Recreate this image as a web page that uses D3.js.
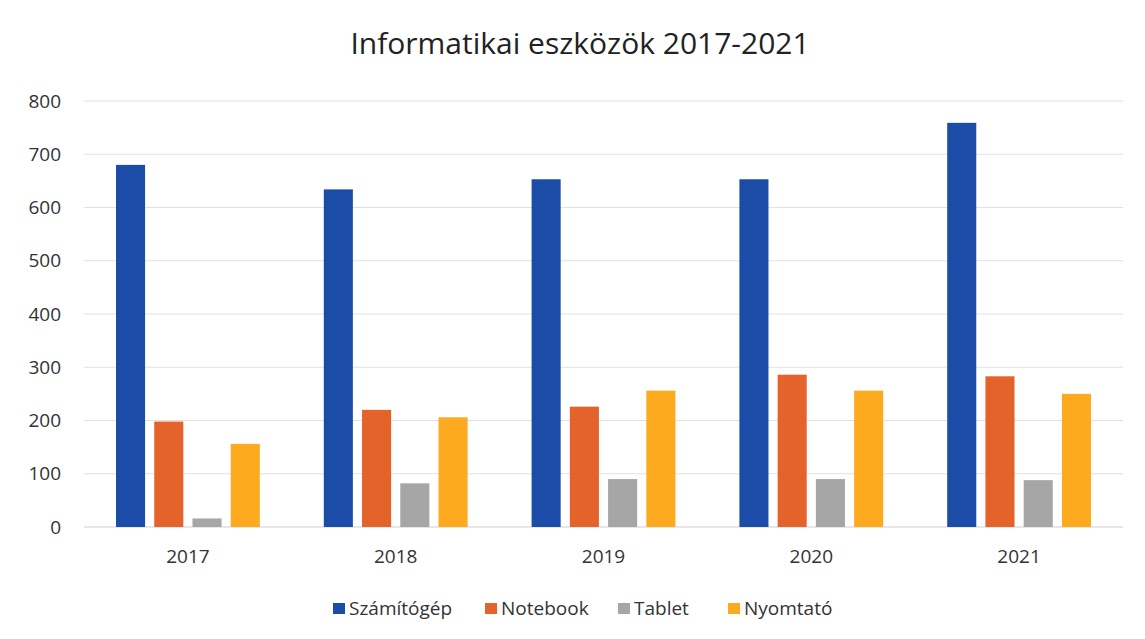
<!DOCTYPE html>
<html>
<head>
<meta charset="utf-8">
<script src="https://cdn.jsdelivr.net/npm/d3@7"></script>
<style>
  body { margin: 0; background: #fff; }
  svg { display: block; font-family: "Open Sans", sans-serif; }
</style>
</head>
<body>
<div id="chart"></div>
<script>
const years = ["2017", "2018", "2019", "2020", "2021"]
const series = ["Számítógép", "Notebook", "Tablet", "Nyomtató"]
const szamitogep = [680, 634, 653, 653, 759]
const notebook = [198, 220, 226, 286, 283]
const tablet = [16, 82, 90, 90, 88]
const nyomtato = [156, 206, 256, 256, 250]
const yTicks = [0, 100, 200, 300, 400, 500, 600, 700, 800]
const colors = ["#1b4ca8", "#e3632b", "#a6a6a6", "#fdaa1f"]

const values = [szamitogep, notebook, tablet, nyomtato]
const rows = years.map((y, i) => ({
  year: y,
  vals: series.map((s, j) => ({ key: s, value: values[j][i], idx: j }))
}))

const width = 1145, height = 639
const margin = { top: 101, right: 22, bottom: 113, left: 84 }

const svg = d3.select("#chart").append("svg")
  .attr("width", width)
  .attr("height", height)

svg.append("rect").attr("width", width).attr("height", height).attr("fill", "#fff")

const x0 = d3.scaleBand()
  .domain(years)
  .range([margin.left, width - margin.right])
  .padding(0)

const groupPad = 32
const x1 = d3.scaleBand()
  .domain(series)
  .range([groupPad, x0.bandwidth() - groupPad])
  .paddingInner(0.24)
  .paddingOuter(0)

const y = d3.scaleLinear()
  .domain([0, 800])
  .range([height - margin.bottom + 1, margin.top])

// gridlines
svg.append("g")
  .selectAll("line")
  .data(yTicks)
  .join("line")
    .attr("x1", margin.left)
    .attr("x2", width - margin.right)
    .attr("y1", d => y(d))
    .attr("y2", d => y(d))
    .attr("stroke", d => d === 0 ? "#cfcfcf" : "#e1e1e1")
    .attr("stroke-width", 1.2)

// y labels
const yAxis = d3.axisLeft(y).tickValues(yTicks).tickSize(0).tickPadding(0)
svg.append("g")
  .attr("transform", `translate(61,0)`)
  .call(yAxis)
  .call(g => g.select(".domain").remove())
  .call(g => g.selectAll("text")
    .attr("font-size", 19)
    .attr("fill", "#333")
    .attr("font-family", "Open Sans, sans-serif"))

// x labels
const xAxis = d3.axisBottom(x0).tickSize(0).tickPadding(0)
svg.append("g")
  .attr("transform", `translate(0,${y(0) + 22})`)
  .call(xAxis)
  .call(g => g.select(".domain").remove())
  .call(g => g.selectAll("text")
    .attr("font-size", 19)
    .attr("fill", "#333")
    .attr("font-family", "Open Sans, sans-serif"))

// bars
svg.append("g")
  .selectAll("g")
  .data(rows)
  .join("g")
    .attr("transform", d => `translate(${x0(d.year)},0)`)
  .selectAll("rect")
  .data(d => d.vals)
  .join("rect")
    .attr("x", d => x1(d.key))
    .attr("width", x1.bandwidth())
    .attr("y", d => y(d.value))
    .attr("height", d => y(0) - y(d.value))
    .attr("fill", d => colors[d.idx])

// title
svg.append("text")
  .attr("x", 580)
  .attr("y", 54)
  .attr("text-anchor", "middle")
  .attr("font-size", 30)
  .attr("fill", "#222")
  .text("Informatikai eszközök 2017-2021")

// legend
const legendX = [333, 485, 618, 728]
const legend = svg.append("g")
  .selectAll("g")
  .data(series)
  .join("g")
    .attr("transform", (d, i) => `translate(${legendX[i]},603)`)
legend.append("rect")
  .attr("width", 12).attr("height", 11)
  .attr("fill", (d, i) => colors[i])
legend.append("text")
  .attr("x", 16)
  .attr("y", 12)
  .attr("font-size", 19)
  .attr("fill", "#333")
  .text(d => d)
</script>
</body>
</html>
